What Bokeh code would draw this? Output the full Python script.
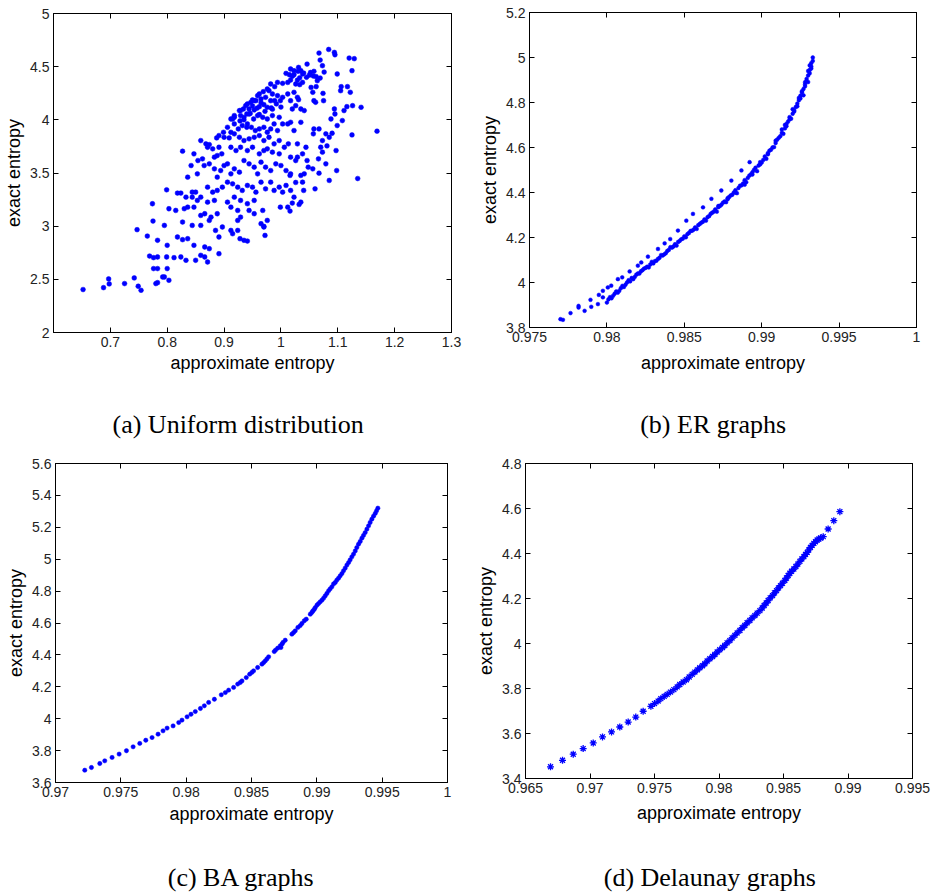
from bokeh.plotting import figure
from bokeh.models import Range1d, FixedTicker, CustomJSTickFormatter, LinearAxis, Label
from bokeh.layouts import column, row
from bokeh.embed import file_html
from bokeh.resources import INLINE

# ---------------- data ----------------
uniform_points = [
    (1.084, 4.662), (1.067, 4.628), (1.094, 4.634), (1.095, 4.612), (1.120, 4.581), (1.129, 4.575),
    (1.069, 4.562), (1.046, 4.524), (1.073, 4.509), (1.031, 4.493),
    (1.017, 4.478), (1.023, 4.462), (1.030, 4.456), (1.035, 4.462), (1.038, 4.431), (1.023, 4.424),
    (1.015, 4.424), (1.009, 4.437), (1.058, 4.456), (1.057, 4.412), (1.062, 4.406), (1.069, 4.393),
    (1.064, 4.368), (1.076, 4.449), (1.099, 4.431), (1.125, 4.462), (1.029, 4.374), (1.038, 4.352),
    (1.017, 4.374), (1.012, 4.352), (1.003, 4.343), (0.994, 4.352), (0.989, 4.312), (0.982, 4.337),
    (0.976, 4.290), (0.969, 4.265), (0.962, 4.243), (1.033, 4.331), (1.026, 4.337), (1.053, 4.305),
    (1.062, 4.312), (1.117, 4.312), (1.106, 4.312), (1.105, 4.274),
    (0.979, 4.274), (0.985, 4.243), (0.994, 4.227), (1.003, 4.212), (0.999, 4.180), (0.989, 4.180),
    (0.982, 4.180), (0.973, 4.212), (0.965, 4.196), (0.953, 4.180), (0.959, 4.227), (0.947, 4.165),
    (0.938, 4.133), (0.929, 4.087), (0.918, 4.040), (0.915, 4.008), (1.012, 4.243), (1.023, 4.259),
    (1.029, 4.212), (1.031, 4.190), (1.026, 4.133), (1.017, 4.180), (1.020, 4.102), (1.035, 4.102),
    (1.041, 4.087), (1.056, 4.259), (1.058, 4.180), (1.061, 4.165), (1.074, 4.249), (1.075, 4.180),
    (1.122, 4.259), (1.111, 4.087), (1.116, 4.124), (1.094, 4.102), (1.141, 4.118), (1.126, 4.133),
    (0.941, 4.149), (0.950, 4.187), (0.956, 4.180), (0.962, 4.124), (0.970, 4.143), (0.976, 4.118),
    (0.983, 4.112), (0.934, 4.102), (0.944, 4.102), (0.953, 4.093), (0.927, 4.087), (0.940, 4.055),
    (0.912, 4.008), (0.918, 4.024), (0.929, 4.040), (0.935, 4.024), (0.944, 4.055), (0.952, 4.008),
    (0.959, 4.040), (0.968, 4.024), (0.976, 4.008), (0.985, 4.040), (0.988, 3.961), (0.997, 4.024),
    (1.003, 3.961), (1.012, 3.961), (1.017, 3.977), (0.918, 3.961), (0.925, 3.914), (0.932, 3.946),
    (0.941, 3.961), (0.948, 3.930), (0.955, 3.899), (0.962, 3.914), (0.970, 3.930), (0.976, 3.883),
    (0.982, 3.914), (0.994, 3.899), (0.906, 3.930), (0.899, 3.883), (0.912, 3.883), (1.095, 4.055),
    (1.088, 4.008), (1.108, 3.993), (1.099, 3.946), (1.058, 3.914), (1.057, 3.868), (1.067, 3.914),
    (1.079, 3.868), (1.090, 3.874), (1.125, 3.858), (1.169, 3.893), (1.023, 3.899), (1.035, 3.977),
    (0.891, 3.852), (0.900, 3.836), (0.909, 3.830), (0.918, 3.868), (0.927, 3.836), (0.935, 3.805),
    (0.944, 3.821), (0.953, 3.836), (0.962, 3.852), (0.970, 3.805), (0.979, 3.836), (0.988, 3.774),
    (0.997, 3.805), (1.006, 3.742), (1.013, 3.774), (0.891, 3.742), (0.912, 3.742), (0.921, 3.711),
    (0.929, 3.742), (0.941, 3.711), (0.950, 3.742), (0.962, 3.680), (0.970, 3.711), (0.976, 3.727),
    (0.985, 3.696), (0.859, 3.805), (0.868, 3.774), (0.874, 3.767), (0.880, 3.727), (0.871, 3.742),
    (0.887, 3.830), (0.827, 3.705), (0.888, 3.664), (0.896, 3.680), (1.073, 3.805), (1.085, 3.836),
    (1.081, 3.755), (1.070, 3.742), (1.044, 3.742), (1.038, 3.680), (1.073, 3.696), (1.097, 3.711),
    (1.029, 3.774), (1.017, 3.649), (0.997, 3.680), (0.883, 3.649),
    (0.842, 3.570), (0.847, 3.680), (0.854, 3.617), (0.862, 3.633), (0.865, 3.570), (0.874, 3.586),
    (0.883, 3.539), (0.888, 3.461), (0.894, 3.523), (0.900, 3.570), (0.906, 3.586), (0.912, 3.492),
    (0.918, 3.539), (0.927, 3.508), (0.935, 3.617), (0.944, 3.586), (0.953, 3.555), (0.959, 3.492),
    (0.965, 3.602), (0.973, 3.555), (0.982, 3.523), (0.991, 3.586), (1.000, 3.570), (1.009, 3.523),
    (1.017, 3.492), (1.026, 3.617), (1.035, 3.477), (1.041, 3.492), (1.048, 3.555), (1.056, 3.539),
    (1.067, 3.498), (1.079, 3.586), (1.098, 3.523), (1.135, 3.448), (1.066, 3.633), (1.046, 3.617),
    (1.029, 3.649), (1.016, 3.477), (0.853, 3.492), (0.836, 3.461),
    (0.844, 3.320), (0.850, 3.320), (0.859, 3.273), (0.871, 3.367), (0.880, 3.320), (0.888, 3.336),
    (0.897, 3.367), (0.906, 3.414), (0.915, 3.398), (0.924, 3.367), (0.932, 3.336), (0.941, 3.383),
    (0.950, 3.367), (0.956, 3.320), (0.965, 3.414), (0.973, 3.351), (0.982, 3.414), (0.988, 3.336),
    (0.997, 3.367), (1.003, 3.320), (1.009, 3.383), (1.017, 3.336), (1.026, 3.411), (1.038, 3.414),
    (1.040, 3.336), (1.023, 3.273), (1.035, 3.226), (1.060, 3.351), (1.085, 3.430), (0.799, 3.342),
    (0.818, 3.311), (0.824, 3.311), (0.833, 3.273), (0.836, 3.179), (0.844, 3.273), (0.853, 3.242),
    (0.871, 3.226), (0.883, 3.242), (0.906, 3.226), (0.918, 3.273), (0.929, 3.242), (0.941, 3.211),
    (0.953, 3.242),
    (0.774, 3.211), (0.803, 3.164), (0.815, 3.148), (0.830, 3.164), (0.847, 3.179), (0.859, 3.101),
    (0.866, 3.117), (0.877, 3.085), (0.888, 3.117), (0.897, 2.992), (0.912, 3.179), (0.924, 3.148),
    (0.929, 3.085), (0.944, 3.148), (0.953, 3.117), (0.968, 3.148), (0.976, 3.054), (0.999, 3.179),
    (1.012, 3.179), (1.016, 3.142), (1.032, 3.204), (1.020, 3.217), (0.775, 3.048), (0.795, 3.007),
    (0.827, 3.039), (0.844, 3.007), (0.859, 3.007), (0.874, 3.054), (0.924, 3.054), (0.965, 3.023),
    (0.970, 2.998),
    (0.747, 2.967), (0.765, 2.907), (0.783, 2.867), (0.800, 2.820), (0.818, 2.898), (0.827, 2.873),
    (0.836, 2.882), (0.847, 2.820), (0.866, 2.804), (0.874, 2.788), (0.885, 2.960), (0.891, 2.898),
    (0.912, 2.960), (0.915, 2.929), (0.924, 2.960), (0.928, 2.882), (0.935, 2.867), (0.941, 2.860),
    (0.972, 2.913), (0.970, 2.992), (0.891, 2.741),
    (0.769, 2.719), (0.776, 2.704), (0.783, 2.710), (0.799, 2.710), (0.812, 2.704), (0.824, 2.710),
    (0.833, 2.679), (0.850, 2.679), (0.859, 2.726), (0.866, 2.710), (0.871, 2.663), (0.776, 2.601),
    (0.783, 2.601), (0.792, 2.522), (0.795, 2.522), (0.800, 2.601), (0.803, 2.491), (0.783, 2.469),
    (0.780, 2.460), (0.742, 2.513), (0.725, 2.460), (0.697, 2.504), (0.698, 2.457), (0.688, 2.422),
    (0.652, 2.404), (0.749, 2.435), (0.754, 2.397),
    (1.040, 4.440), (1.050, 4.420), (1.045, 4.400), (1.033, 4.395), (1.020, 4.410), (1.052, 4.445),
    (0.965, 4.160), (0.958, 4.110), (0.946, 4.060), (0.935, 4.000), (0.962, 4.050), (0.972, 4.080),
    (0.950, 4.130), (0.928, 3.990), (0.940, 3.930), (0.985, 4.100), (0.992, 4.150), (1.000, 4.120),
]

er_points = [
    (0.9770, 3.837), (0.97716, 3.834), (0.97765, 3.864), (0.97817, 3.889), (0.97817, 3.896),
    (0.97856, 3.874), (0.97894, 3.923), (0.97899, 3.892), (0.97942, 3.904), (0.97948, 3.945),
    (0.97974, 3.963), (0.97974, 3.934), (0.98006, 3.978), (0.98028, 3.986), (0.98071, 4.015),
    (0.98099, 4.023), (0.98147, 4.049), (0.98200, 4.075), (0.98222, 4.089), (0.98265, 4.115),
    (0.98330, 4.149), (0.98373, 4.174), (0.98409, 4.193), (0.98459, 4.231), (0.98513, 4.275),
    (0.98556, 4.305), (0.98621, 4.334), (0.98675, 4.372), (0.98739, 4.409), (0.98804, 4.453),
    (0.98869, 4.498), (0.98922, 4.535),
    (0.9800, 3.911), (0.9804, 3.941), (0.9808, 3.963), (0.9812, 3.990), (0.9817, 4.015),
    (0.9821, 4.040), (0.9827, 4.067), (0.9832, 4.097), (0.9838, 4.130), (0.9845, 4.164),
    (0.9851, 4.201), (0.9858, 4.238), (0.9864, 4.275), (0.9871, 4.315), (0.9877, 4.357),
    (0.9884, 4.397), (0.9890, 4.446), (0.9897, 4.495), (0.9903, 4.550), (0.9908, 4.602),
    (0.9914, 4.661), (0.9919, 4.728), (0.9923, 4.783), (0.9927, 4.832), (0.9930, 4.891),
    (0.9932, 4.951), (0.9933, 5.000),
    (0.9802, 3.935), (0.9806, 3.960), (0.9810, 3.985), (0.9814, 4.010), (0.9819, 4.035),
    (0.9824, 4.062), (0.9829, 4.092), (0.9835, 4.122), (0.9841, 4.157), (0.9848, 4.192),
    (0.9854, 4.229), (0.9861, 4.266), (0.9867, 4.305), (0.9874, 4.346), (0.9880, 4.387),
    (0.9887, 4.432), (0.9893, 4.481), (0.9900, 4.533), (0.9905, 4.586), (0.9911, 4.643),
    (0.9916, 4.705), (0.9921, 4.765), (0.9925, 4.818), (0.9928, 4.872), (0.9931, 4.930),
    (0.9932, 4.975), (0.9926, 4.845), (0.9929, 4.905), (0.9931, 4.965),
    (0.9915, 4.700), (0.9920, 4.770), (0.9924, 4.820), (0.9928, 4.890), (0.9930, 4.940),
    (0.9918, 4.735), (0.9913, 4.680), (0.9909, 4.630), (0.9904, 4.575), (0.9899, 4.525),
    (0.9894, 4.480), (0.9889, 4.435), (0.9883, 4.400), (0.9878, 4.375), (0.9872, 4.340),
    (0.9801, 3.925), (0.9803, 3.930), (0.9805, 3.950), (0.9807, 3.955), (0.9809, 3.975),
    (0.9811, 3.980), (0.9813, 4.000), (0.9815, 4.005), (0.9816, 4.020), (0.9818, 4.025),
    (0.9820, 4.040), (0.9822, 4.050), (0.9823, 4.055), (0.9825, 4.065), (0.9826, 4.070),
    (0.9828, 4.080), (0.9830, 4.085), (0.9831, 4.095), (0.9833, 4.105), (0.9834, 4.110),
    (0.9836, 4.120), (0.9837, 4.125), (0.9839, 4.140), (0.9840, 4.145), (0.9842, 4.155),
    (0.9843, 4.160), (0.9844, 4.170), (0.9846, 4.180), (0.9847, 4.185), (0.9849, 4.195),
    (0.9850, 4.205), (0.9852, 4.215), (0.9853, 4.220), (0.9855, 4.230), (0.9856, 4.235),
    (0.9857, 4.245), (0.9859, 4.255), (0.9860, 4.260), (0.9862, 4.270), (0.9863, 4.280),
    (0.9865, 4.290), (0.9866, 4.295), (0.9868, 4.310), (0.9869, 4.315), (0.9870, 4.325),
    (0.9872, 4.335), (0.9873, 4.340), (0.9875, 4.355), (0.9876, 4.360), (0.9878, 4.370),
    (0.9879, 4.380), (0.9881, 4.390), (0.9882, 4.400), (0.9883, 4.410), (0.9885, 4.420),
    (0.9886, 4.430), (0.9888, 4.440), (0.9889, 4.455), (0.9891, 4.465), (0.9892, 4.475),
    (0.9894, 4.490), (0.9895, 4.500), (0.9896, 4.510), (0.9898, 4.520), (0.9899, 4.535),
    (0.9901, 4.545), (0.9902, 4.560), (0.9904, 4.570), (0.9906, 4.590), (0.9907, 4.600),
    (0.9909, 4.620), (0.9910, 4.635), (0.9912, 4.650), (0.9913, 4.665), (0.9915, 4.685),
    (0.9916, 4.695), (0.9917, 4.715), (0.9918, 4.725), (0.9920, 4.750), (0.9921, 4.760),
    (0.9922, 4.780), (0.9923, 4.795), (0.9924, 4.810), (0.9925, 4.830), (0.9926, 4.850),
    (0.9927, 4.860), (0.9928, 4.880), (0.9929, 4.895), (0.9930, 4.920), (0.9931, 4.945),
    (0.9932, 4.960), (0.9933, 4.985),
]

ba_points = [
    (0.97224, 3.677), (0.97275, 3.694), (0.97339, 3.719), (0.97377, 3.736), (0.97433, 3.757),
    (0.97487, 3.778), (0.97543, 3.799), (0.97594, 3.824), (0.97645, 3.845), (0.97691, 3.865),
    (0.97739, 3.882), (0.97785, 3.903), (0.97823, 3.924), (0.97854, 3.941), (0.97900, 3.955),
    (0.97943, 3.976), (0.97968, 3.991), (0.98007, 4.012), (0.98037, 4.028), (0.98070, 4.045),
    (0.98109, 4.064), (0.98139, 4.081), (0.98172, 4.102), (0.98216, 4.122), (0.98269, 4.150),
    (0.98300, 4.164), (0.98325, 4.179), (0.98363, 4.196), (0.98394, 4.217), (0.98427, 4.237),
    (0.98460, 4.258), (0.98486, 4.279), (0.98516, 4.300), (0.98547, 4.321), (0.98580, 4.342),
    (0.98606, 4.363), (0.98631, 4.388), (0.98674, 4.421), (0.98700, 4.442), (0.98720, 4.457),
    (0.98741, 4.478), (0.98758, 4.492), (0.98809, 4.530), (0.98835, 4.551), (0.98855, 4.572),
    (0.98886, 4.597), (0.98904, 4.614), (0.98919, 4.624), (0.98950, 4.655), (0.98970, 4.676),
    (0.98988, 4.697), (0.99013, 4.722), (0.99039, 4.743), (0.99064, 4.770), (0.99090, 4.802),
    (0.99115, 4.827), (0.99141, 4.854), (0.99166, 4.881), (0.99192, 4.910), (0.99217, 4.944),
    (0.99243, 4.979), (0.99268, 5.015), (0.99294, 5.052), (0.99319, 5.094), (0.99345, 5.132),
    (0.99370, 5.167), (0.99396, 5.209), (0.99421, 5.251), (0.99447, 5.287), (0.99467, 5.320),
    (0.99128, 4.845), (0.99153, 4.869), (0.99179, 4.896), (0.99204, 4.927), (0.99230, 4.963),
    (0.99255, 4.996), (0.99281, 5.032), (0.99306, 5.073), (0.99332, 5.111), (0.99357, 5.149),
    (0.99383, 5.188), (0.99408, 5.230), (0.99434, 5.270), (0.99457, 5.303), (0.99001, 4.712),
    (0.99026, 4.733), (0.99052, 4.756), (0.99077, 4.785), (0.99102, 4.814), (0.98962, 4.666),
    (0.98980, 4.685), (0.98822, 4.540), (0.98873, 4.584), (0.98684, 4.430), (0.98733, 4.467),
    (0.98414, 4.227), (0.98503, 4.290), (0.98593, 4.352), (0.98618, 4.375), (0.98725, 4.446),
]

delaunay_points = [
    (0.96694, 3.452), (0.96787, 3.481), (0.96870, 3.508), (0.96947, 3.533), (0.97025, 3.558),
    (0.97097, 3.585), (0.97167, 3.607), (0.97231, 3.629), (0.97296, 3.651), (0.97355, 3.673),
    (0.97412, 3.699), (0.97472, 3.721), (0.97528, 3.744), (0.97575, 3.765), (0.97624, 3.784),
    (0.97676, 3.807), (0.97722, 3.829), (0.97769, 3.851), (0.97813, 3.873), (0.97851, 3.892),
    (0.97890, 3.910), (0.97929, 3.932), (0.97968, 3.951), (0.98006, 3.972), (0.98045, 3.991),
    (0.98084, 4.013), (0.98123, 4.036), (0.98162, 4.058), (0.98200, 4.080), (0.98239, 4.102),
    (0.98278, 4.124), (0.98317, 4.146), (0.98350, 4.169), (0.98381, 4.191), (0.98415, 4.213),
    (0.98446, 4.235), (0.98477, 4.257), (0.98510, 4.280), (0.98536, 4.302), (0.98562, 4.321),
    (0.98596, 4.342), (0.98627, 4.365), (0.98658, 4.386), (0.98684, 4.405), (0.98709, 4.427),
    (0.98735, 4.445), (0.98761, 4.460), (0.98787, 4.469), (0.98808, 4.475), (0.98846, 4.509),
    (0.98890, 4.546), (0.98937, 4.586),
    (0.97792, 3.863), (0.97833, 3.883), (0.97872, 3.901), (0.97908, 3.922), (0.97950, 3.942),
    (0.97986, 3.962), (0.98027, 3.982), (0.98063, 4.003), (0.98102, 4.025), (0.98141, 4.047),
    (0.98180, 4.070), (0.98218, 4.092), (0.98257, 4.114), (0.98296, 4.135), (0.98335, 4.158),
    (0.98366, 4.180), (0.98397, 4.203), (0.98430, 4.225), (0.98461, 4.247), (0.98492, 4.268),
    (0.98523, 4.291), (0.98549, 4.312), (0.98580, 4.331), (0.98611, 4.353), (0.98642, 4.376),
    (0.98671, 4.396), (0.98696, 4.416), (0.98722, 4.436), (0.98748, 4.452), (0.98774, 4.464),
    (0.97696, 3.818), (0.97748, 3.839), (0.97598, 3.774), (0.97650, 3.795), (0.97500, 3.733),
    (0.97549, 3.755),
]

# axis ranges and tick labels
a_xrange, a_yrange = (0.6, 1.3), (2.0, 5.0)
a_xticks = [0.7, 0.8, 0.9, 1.0, 1.1, 1.2, 1.3]
a_yticks = [2.0, 2.5, 3.0, 3.5, 4.0, 4.5, 5.0]
b_xrange, b_yrange = (0.975, 1.0), (3.8, 5.2)
b_xticks = [0.975, 0.98, 0.985, 0.99, 0.995, 1.0]
b_yticks = [3.8, 4.0, 4.2, 4.4, 4.6, 4.8, 5.0, 5.2]
c_xrange, c_yrange = (0.97, 1.0), (3.6, 5.6)
c_xticks = [0.97, 0.975, 0.98, 0.985, 0.99, 0.995, 1.0]
c_yticks = [3.6, 3.8, 4.0, 4.2, 4.4, 4.6, 4.8, 5.0, 5.2, 5.4, 5.6]
d_xrange, d_yrange = (0.965, 0.995), (3.4, 4.8)
d_xticks = [0.965, 0.97, 0.975, 0.98, 0.985, 0.99, 0.995]
d_yticks = [3.4, 3.6, 3.8, 4.0, 4.2, 4.4, 4.6, 4.8]

captions = ["(a)  Uniform distribution", "(b)  ER graphs", "(c) BA graphs", "(d) Delaunay graphs"]
x_label = "approximate entropy"
y_label = "exact entropy"

BLUE = "#0000ff"
FMT = "return parseFloat(tick.toFixed(4)).toString();"
W = 466


def panel(points, xr, yr, xt, yt, marker, msize, h, bl, br, bt, bb, lab_gap):
    p = figure(width=W, height=h, output_backend="svg", toolbar_location=None,
               x_range=Range1d(*xr), y_range=Range1d(*yr),
               min_border_left=bl, min_border_right=br, min_border_top=bt, min_border_bottom=bb,
               background_fill_color="white", border_fill_color="white")
    p.grid.visible = False
    p.outline_line_color = "black"
    p.outline_line_width = 1
    xs = [pt[0] for pt in points]
    ys = [pt[1] for pt in points]
    if marker == "asterisk":
        p.scatter(xs, ys, marker="asterisk", size=msize, line_color=BLUE, line_width=1.3)
    else:
        p.scatter(xs, ys, marker="circle", size=msize, fill_color=BLUE, line_color=BLUE, line_width=0.5)

    for ax, ticks, lab in ((p.xaxis[0], xt, x_label), (p.yaxis[0], yt, y_label)):
        ax.ticker = FixedTicker(ticks=ticks)
        ax.formatter = CustomJSTickFormatter(code=FMT)
        ax.axis_label = lab
        ax.axis_label_text_font = "Liberation Sans"
        ax.axis_label_text_font_size = "18px"
        ax.axis_label_text_font_style = "normal"
        ax.axis_label_text_color = "black"
        ax.axis_label_standoff = 3
        ax.major_label_text_font = "Liberation Sans"
        ax.major_label_text_font_size = "14px"
        ax.major_label_text_color = "#222222"
        ax.major_label_standoff = 4
        ax.major_tick_in = 5
        ax.major_tick_out = 0
        ax.minor_tick_line_color = None
        ax.axis_line_color = "black"
        ax.major_tick_line_color = "black"
    p.xaxis[0].axis_label_standoff = lab_gap

    for loc, ticks in (("above", xt), ("right", yt)):
        extra = LinearAxis(ticker=FixedTicker(ticks=ticks),
                           formatter=CustomJSTickFormatter(code="return '';"),
                           major_tick_in=5, major_tick_out=0, major_label_standoff=0,
                           minor_tick_line_color=None, axis_line_color="black",
                           major_tick_line_color="black")
        p.add_layout(extra, loc)
    return p


def caption_strip(text, h, cx):
    c = figure(width=W, height=h, output_backend="svg", toolbar_location=None,
               x_range=Range1d(0, W), y_range=Range1d(0, h),
               x_axis_location=None, y_axis_location=None,
               min_border=0, min_border_left=0, min_border_right=0,
               min_border_top=0, min_border_bottom=0,
               outline_line_color=None, background_fill_color="white", border_fill_color="white")
    c.grid.visible = False
    c.add_layout(Label(x=cx, y=h / 2, text=text, text_align="center", text_baseline="middle",
                       text_font="Liberation Serif", text_font_size="26px", text_color="black"))
    return c


fa = panel(uniform_points, a_xrange, a_yrange, a_xticks, a_yticks, "circle", 4.8,
           402, 53, 15, 13, 70, 3)
fb = panel(er_points, b_xrange, b_yrange, b_xticks, b_yticks, "circle", 3.8,
           402, 63, 16, 12, 75, 8)
fc = panel(ba_points, c_xrange, c_yrange, c_xticks, c_yticks, "circle", 4.3,
           415, 55, 19, 17, 79, 4)
fd = panel(delaunay_points, d_xrange, d_yrange, d_xticks, d_yticks, "asterisk", 7,
           415, 59, 20, 17, 83, 7)

ca = caption_strip(captions[0], 44, 220)
cb = caption_strip(captions[1], 44, 225)
cc = caption_strip(captions[2], 32, 221)
cd = caption_strip(captions[3], 32, 222)

layout = column(row(column(fa, ca), column(fb, cb)), row(column(fc, cc), column(fd, cd)))
open("out.html", "w").write(file_html(layout, INLINE))
